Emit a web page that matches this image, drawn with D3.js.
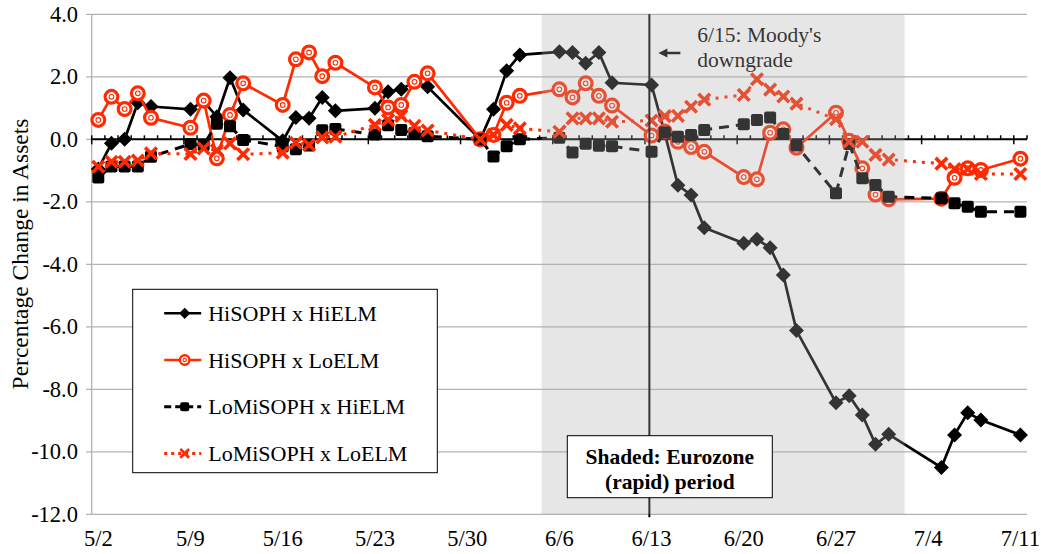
<!DOCTYPE html>

<head>
    <meta charset="UTF-8" />
    <style>
        body {
            margin: 0;
            padding: 0;
            background: #fff;
        }

        svg text {
            font-family: "Liberation Serif", "Times New Roman", serif;
            fill: #000;
        }
    </style>
    <title>Percentage Change in Assets</title>
</head>

<svg width="1041" height="554"></svg>
<script src="https://d3js.org/d3.v7.min.js"></script>

<script>
    // trading days (2011), weekends and holidays skipped
    const dates = ["5/2", "5/3", "5/4", "5/5", "5/6", "5/9", "5/10", "5/11", "5/12", "5/13",
        "5/16", "5/17", "5/18", "5/19", "5/20", "5/23", "5/24", "5/25", "5/26", "5/27",
        "5/31", "6/1", "6/2", "6/3", "6/6", "6/7", "6/8", "6/9", "6/10",
        "6/13", "6/14", "6/15", "6/16", "6/17", "6/20", "6/21", "6/22", "6/23", "6/24",
        "6/27", "6/28", "6/29", "6/30", "7/1", "7/5", "7/6", "7/7", "7/8", "7/11"];

    const hiSophHiElm = [-0.95, -0.13, 0.0, 1.17, 1.05, 0.96, 1.22, 0.72, 1.97, 0.94,
        -0.05, 0.7, 0.67, 1.34, 0.91, 0.99, 1.52, 1.6, 1.85, 1.68,
        0.0, 0.96, 2.19, 2.7, 2.8, 2.78, 2.43, 2.78, 1.81,
        1.74, 0.2, -1.47, -1.78, -2.83, -3.33, -3.2, -3.47, -4.34, -6.12,
        -8.43, -8.21, -8.82, -9.76, -9.44, -10.5, -9.46, -8.75, -8.98, -9.46];

    const hiSophLoElm = [0.62, 1.36, 0.97, 1.47, 0.69, 0.37, 1.24, -0.61, 0.78, 1.79,
        1.1, 2.56, 2.78, 2.02, 2.45, 1.66, 1.02, 1.1, 1.84, 2.11,
        0.0, 0.14, 1.17, 1.39, 1.6, 1.34, 1.79, 1.39, 1.08,
        0.12, 0.25, -0.08, -0.25, -0.4, -1.21, -1.28, 0.21, 0.32, -0.27,
        0.85, -0.05, -0.93, -1.77, -1.92, -1.9, -1.23, -0.93, -0.98, -0.62];

    const loSophHiElm = [-1.22, -0.87, -0.87, -0.87, -0.56, -0.15, -0.18, 0.5, 0.42, -0.02,
        -0.23, -0.32, -0.2, 0.29, 0.33, 0.15, 0.45, 0.3, 0.2, 0.1,
        0.0, -0.55, -0.22, 0.0, 0.05, -0.42, -0.14, -0.21, -0.22,
        -0.4, 0.22, 0.08, 0.14, 0.3, 0.48, 0.62, 0.7, 0.17, -0.2,
        -1.73, -0.15, -1.25, -1.46, -1.84, -1.89, -2.05, -2.16, -2.32, -2.32];

    const loSophLoElm = [-0.88, -0.72, -0.72, -0.68, -0.45, -0.47, -0.29, -0.35, -0.13, -0.48,
        -0.43, -0.11, -0.18, 0.06, 0.08, 0.46, 0.62, 0.75, 0.43, 0.28,
        0.0, 0.14, 0.46, 0.35, 0.24, 0.67, 0.67, 0.67, 0.56,
        0.6, 0.74, 0.75, 1.04, 1.27, 1.42, 1.92, 1.59, 1.37, 1.14,
        0.64, -0.08, -0.08, -0.5, -0.65, -0.78, -0.95, -0.95, -1.11, -1.11];

    const seriesNames = ["HiSOPH x HiELM", "HiSOPH x LoELM", "LoMiSOPH x HiELM", "LoMiSOPH x LoELM"];
    const weekLabels = ["5/2", "5/9", "5/16", "5/23", "5/30", "6/6", "6/13", "6/20", "6/27", "7/4", "7/11"];
    const yTicks = [4, 2, 0, -2, -4, -6, -8, -10, -12];

    const red = "#ff2a00";
    var parse = d3.timeParse("%m/%d/%Y");
    var toDate = s => parse(s + "/2011");

    var svg = d3.select("svg");

    var x = d3.scaleTime()
        .domain([d3.timeHour.offset(toDate("5/2"), -12), d3.timeHour.offset(toDate("7/11"), 12)])
        .range([91.7, 1027]);
    var y = d3.scaleLinear().domain([-12, 4]).range([514.3, 14.3]);

    var series = [
        { name: seriesNames[0], values: hiSophHiElm, color: "#000", dash: null, marker: "diamond" },
        { name: seriesNames[1], values: hiSophLoElm, color: red, dash: null, marker: "circle" },
        { name: seriesNames[2], values: loSophHiElm, color: "#000", dash: "10,7", marker: "square" },
        { name: seriesNames[3], values: loSophLoElm, color: red, dash: "3,6", marker: "cross" }
    ];

    // gridlines + y axis
    svg.append("g").selectAll("line").data(yTicks).enter().append("line")
        .attr("x1", 86).attr("x2", x.range()[1])
        .attr("y1", d => y(d)).attr("y2", d => y(d))
        .attr("stroke", "#b3b3b3").attr("stroke-width", 1.3);

    svg.append("line")
        .attr("x1", x.range()[0]).attr("x2", x.range()[0])
        .attr("y1", y(4)).attr("y2", y(-12))
        .attr("stroke", "#b3b3b3").attr("stroke-width", 1.3);

    svg.append("g").selectAll("text").data(yTicks).enter().append("text")
        .attr("x", 78).attr("y", d => y(d) + 7.5)
        .attr("text-anchor", "end")
        .style("font-size", "22.5px")
        .text(d => d.toFixed(1));

    svg.append("text")
        .attr("transform", "translate(28,254) rotate(-90)")
        .attr("text-anchor", "middle")
        .style("font-size", "23.5px")
        .text("Percentage Change in Assets");

    // x axis at zero, tick on every day boundary, long ones on mondays
    var days = d3.timeDay.range(toDate("5/2"), d3.timeDay.offset(toDate("7/11"), 2));
    var axis = svg.append("g");
    axis.append("line")
        .attr("x1", x.range()[0]).attr("x2", x.range()[1])
        .attr("y1", y(0)).attr("y2", y(0))
        .attr("stroke", "#000").attr("stroke-width", 2);
    axis.selectAll(".tick").data(days).enter().append("line")
        .attr("class", "tick")
        .attr("x1", d => x(d3.timeHour.offset(d, -12)))
        .attr("x2", d => x(d3.timeHour.offset(d, -12)))
        .attr("y1", y(0) - 4)
        .attr("y2", d => d.getDay() == 1 ? y(0) + 5 : y(0))
        .attr("stroke", "#000").attr("stroke-width", 1.5);

    svg.append("g").selectAll("text").data(weekLabels).enter().append("text")
        .attr("x", d => x(toDate(d)))
        .attr("y", 546)
        .attr("text-anchor", "middle")
        .style("font-size", "22.5px")
        .text(d => d);

    function drawMarker(g, type, color, s) {
        if (type == "diamond") {
            g.append("path").attr("d", `M0,${-7.5 * s} L${7.5 * s},0 L0,${7.5 * s} L${-7.5 * s},0 Z`).attr("fill", color);
        } else if (type == "circle") {
            g.append("circle").attr("r", 6.4 * s).attr("fill", "#fff").attr("stroke", color).attr("stroke-width", 3.2 * s);
            g.append("circle").attr("r", 2.3 * s).attr("fill", "none").attr("stroke", color).attr("stroke-width", 1.1);
        } else if (type == "square") {
            g.append("rect").attr("x", -6 * s).attr("y", -6 * s).attr("width", 12 * s).attr("height", 12 * s)
                .attr("rx", 2).attr("fill", color);
        } else {
            var r = 5.8 * s;
            g.append("path").attr("d", `M${-r},${-r} L${r},${r} M${-r},${r} L${r},${-r}`)
                .attr("stroke", color).attr("stroke-width", 3.6 * s);
        }
    }

    var line = d3.line().x(d => x(d.date)).y(d => y(d.value));

    series.forEach(s => {
        var pts = dates.map((d, i) => ({ date: toDate(d), value: s.values[i] }));
        var g = svg.append("g");
        g.append("path")
            .attr("d", line(pts))
            .attr("fill", "none")
            .attr("stroke", s.color)
            .attr("stroke-width", s.dash ? 3 : 2.7)
            .attr("stroke-dasharray", s.dash);
        g.selectAll(".pt").data(pts).enter().append("g")
            .attr("class", "pt")
            .attr("transform", d => `translate(${x(d.date)},${y(d.value)})`)
            .each(function () { drawMarker(d3.select(this), s.marker, s.color, 1); });
    });

    // moody's downgrade line + note
    var eventX = x(d3.timeHour.offset(toDate("6/13"), -4));
    svg.append("line")
        .attr("x1", eventX).attr("x2", eventX)
        .attr("y1", y(4)).attr("y2", y(-12) + 3)
        .attr("stroke", "#000").attr("stroke-width", 2);
    svg.append("path")
        .attr("d", `M${eventX + 31},53 L${eventX + 16},53`)
        .attr("stroke", "#000").attr("stroke-width", 2.5);
    svg.append("path")
        .attr("d", `M${eventX + 9},53 L${eventX + 18},48.5 L${eventX + 18},57.5 Z`)
        .attr("fill", "#000");
    svg.append("text").attr("x", eventX + 48).attr("y", 42)
        .style("font-size", "21.5px").text("6/15: Moody's");
    svg.append("text").attr("x", eventX + 48).attr("y", 67)
        .style("font-size", "21.5px").text("downgrade");

    // shaded eurozone period (translucent, sits over the lines)
    var shadeFrom = d3.timeHour.offset(toDate("6/5"), -8),
        shadeTo = d3.timeHour.offset(toDate("7/2"), 5);
    svg.append("rect")
        .attr("x", x(shadeFrom)).attr("width", x(shadeTo) - x(shadeFrom))
        .attr("y", y(4)).attr("height", y(-12) - y(4))
        .attr("fill", "rgb(171,171,171)").attr("fill-opacity", 0.3);

    // legend
    var legend = svg.append("g").attr("transform", "translate(132.7,289.3)");
    legend.append("rect").attr("width", 304.6).attr("height", 183.4)
        .attr("fill", "#fff").attr("stroke", "#000").attr("stroke-width", 1);
    series.forEach((s, i) => {
        var row = legend.append("g").attr("transform", `translate(0,${24 + i * 46.7})`);
        row.append("line").attr("x1", 31.5).attr("x2", 68.5)
            .attr("stroke", s.color).attr("stroke-width", s.dash ? 3 : 2.5)
            .attr("stroke-dasharray", s.dash ? (s.marker == "square" ? "7,4" : "3,4") : null);
        drawMarker(row.append("g").attr("transform", "translate(52,0)"), s.marker, s.color, 0.75);
        row.append("text").attr("x", 75.5).attr("y", 7.5)
            .style("font-size", "22px").text(s.name);
    });

    // note box
    var note = svg.append("g").attr("transform", "translate(567.3,435.7)");
    note.append("rect").attr("width", 205).attr("height", 62)
        .attr("fill", "#fff").attr("stroke", "#000").attr("stroke-width", 1);
    note.append("text").attr("x", 102.5).attr("y", 28).attr("text-anchor", "middle")
        .style("font-size", "21.5px").style("font-weight", "bold").text("Shaded: Eurozone");
    note.append("text").attr("x", 102.5).attr("y", 53).attr("text-anchor", "middle")
        .style("font-size", "21.5px").style("font-weight", "bold").text("(rapid) period");
</script>
